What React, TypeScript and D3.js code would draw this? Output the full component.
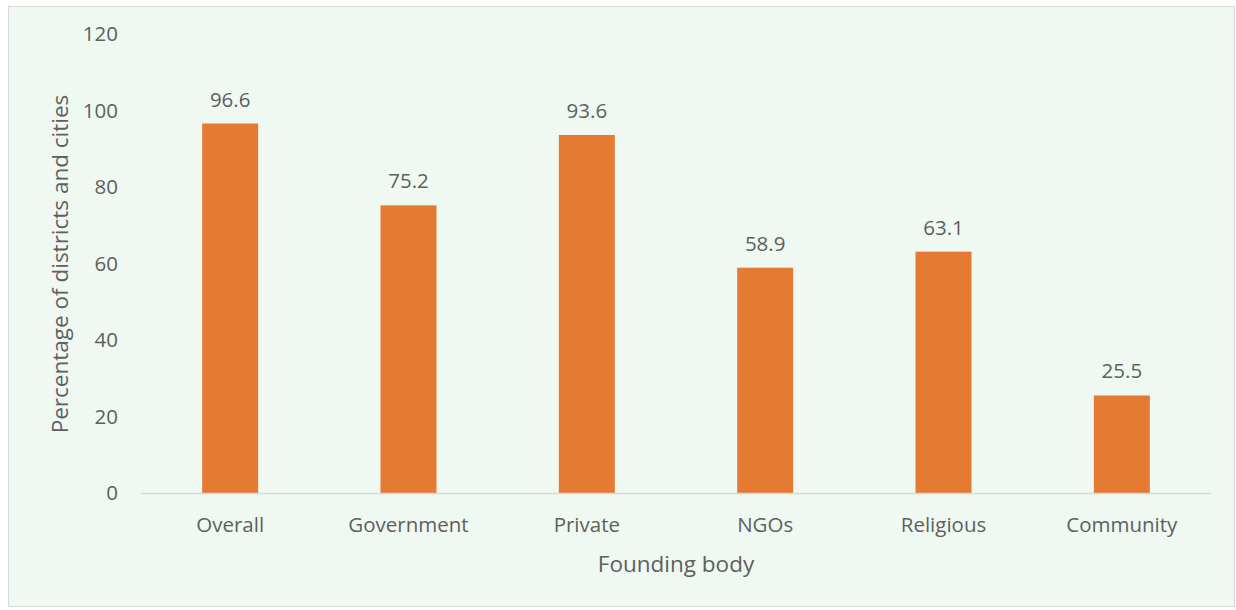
import React from "react";
import * as d3 from "d3";

const categories = ["Overall", "Government", "Private", "NGOs", "Religious", "Community"];
const values = [96.6, 75.2, 93.6, 58.9, 63.1, 25.5];
const yTicks = [0, 20, 40, 60, 80, 100, 120];

const W = 1236;
const H = 610;
const FONT = "'Open Sans', 'Noto Sans', sans-serif";
const TEXT = "#5f5f5f";

export default function App() {
  const x = d3.scaleBand<string>().domain(categories).range([141, 1211]);
  const y = d3.scaleLinear().domain([0, 120]).range([493, 34]);
  const bw = 56;
  return (
    <svg width={W} height={H} style={{ position: "absolute", left: 0, top: 0 }}>
      <rect x={0} y={0} width={W} height={H} fill="#ffffff" />
      <rect x={8.5} y={6.5} width={1226} height={600} fill="#eff8f1" stroke="#d6d9d7" strokeWidth={1} />
      {yTicks.map((t) => (
        <text key={t} x={118} y={y(t)} dy="0.36em" textAnchor="end" fontFamily={FONT} fontSize={20.5} fill={TEXT}>
          {t}
        </text>
      ))}
      {categories.map((c, i) => {
        const cx = (x(c) as number) + x.bandwidth() / 2;
        return (
          <g key={c}>
            <rect x={cx - bw / 2} y={y(values[i])} width={bw} height={y(0) - y(values[i])} fill="#e57a33" />
            <text x={cx} y={y(values[i]) - 17} textAnchor="middle" fontFamily={FONT} fontSize={20.5} fill={TEXT}>
              {values[i]}
            </text>
            <text x={cx} y={532} textAnchor="middle" fontFamily={FONT} fontSize={20.5} fill={TEXT}>
              {c}
            </text>
          </g>
        );
      })}
      <line x1={141} x2={1211} y1={y(0) + 0.5} y2={y(0) + 0.5} stroke="#d9d9d9" strokeWidth={1.5} />
      <text x={676} y={572} textAnchor="middle" fontFamily={FONT} fontSize={22.5} fill={TEXT}>
        Founding body
      </text>
      <text transform={`translate(68,264) rotate(-90)`} textAnchor="middle" fontFamily={FONT} fontSize={22.5} fill={TEXT}>
        Percentage of districts and cities
      </text>
    </svg>
  );
}
